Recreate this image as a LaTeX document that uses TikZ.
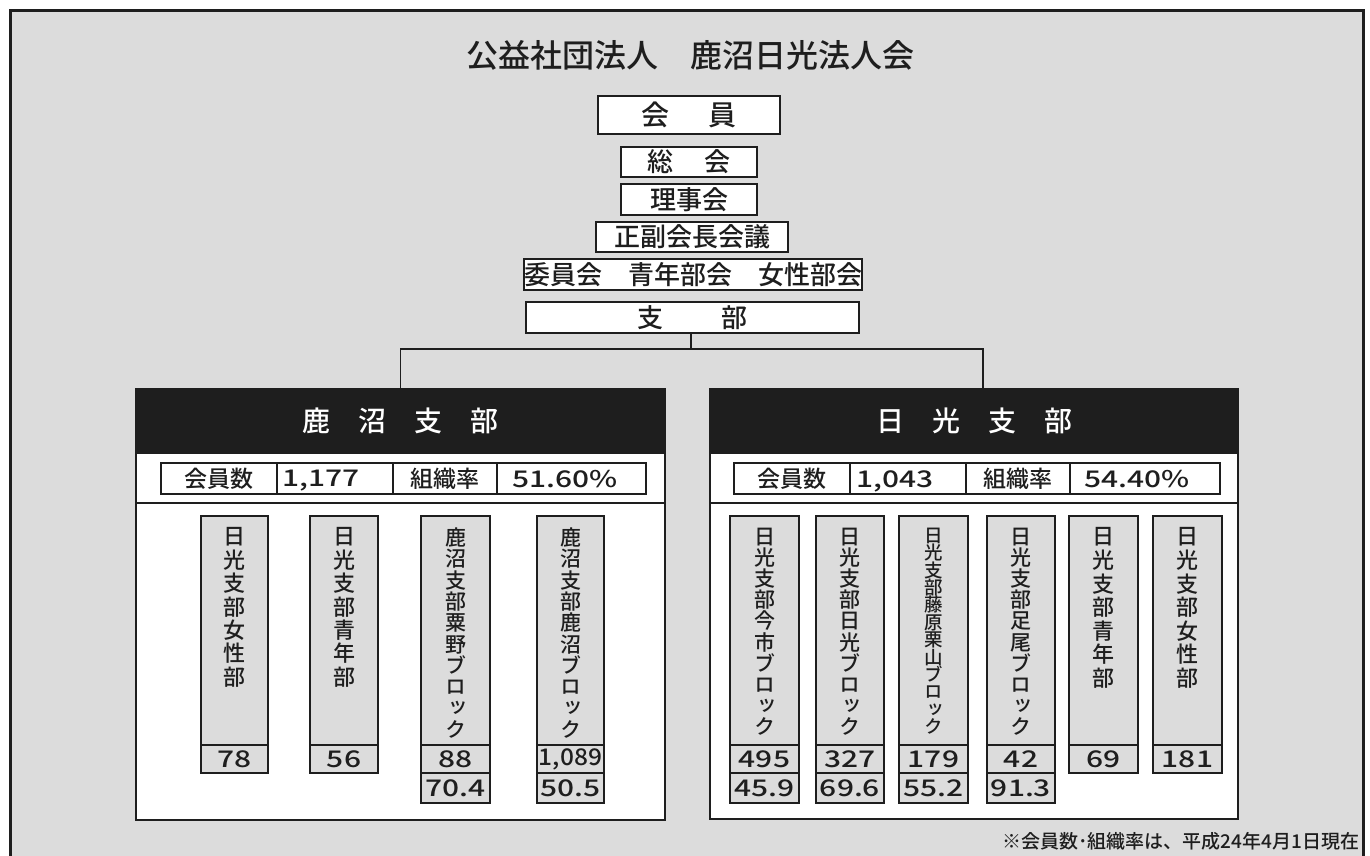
\documentclass[tikz,border=0pt]{standalone}
\usepackage{fontspec}
\usepackage{graphicx}
\setmainfont{Noto Sans CJK JP}[UprightFont=* Medium, BoldFont=* Medium]
\newfontfamily\vjp{Noto Sans CJK JP}[UprightFont=* Medium, RawFeature=+vert]
\definecolor{bg}{RGB}{220,220,220}
\definecolor{ink}{RGB}{30,30,30}
\newcommand\fs[1]{\fontsize{#1}{#1}\selectfont}
\newcommand\wnum[2][1.3]{\scalebox{#1}[1]{#2}}
\newcommand\mkcol[6]{%
  \pgfmathsetmacro\colcx{(#2+#3)/2}\pgfmathsetmacro\colw{#3-#2}%
  \node[colbody, minimum width=\colw pt] (#1) at (\colcx,630.5) {};
  \node[vtxt, font=#4] (#1t) at (\colcx,527) {#5};
  \node[numcell, minimum width=\colw pt] (#1a) at (\colcx,759) {\wnum{#6}};
}
\newcommand\mkcellb[4]{%
  \pgfmathsetmacro\colcx{(#2+#3)/2}\pgfmathsetmacro\colw{#3-#2}%
  \node[numcell, minimum height=30pt, minimum width=\colw pt] (#1) at (\colcx,788) {\wnum{#4}};
}
\begin{document}
\begin{tikzpicture}[x=1pt,y=-1pt,line width=1.6pt,
  box/.style={draw=ink, fill=white, inner sep=0pt, font=\fs{26}, text=ink},
  head/.style={draw=ink, fill=ink, text=white, inner sep=0pt, font=\fs{28}, minimum height=64pt},
  panel/.style={draw=ink, fill=white, inner sep=0pt},
  scell/.style={draw=ink, fill=white, inner sep=0pt, minimum height=31pt, font=\fs{23}, text=ink},
  stxt/.style={inner sep=0pt, anchor=west, font=\fs{23}, text=ink},
  colbody/.style={draw=ink, fill=bg, inner sep=0pt, minimum height=229pt},
  vtxt/.style={anchor=north, inner sep=0pt, align=center, text=ink},
  numcell/.style={draw=ink, fill=bg, inner sep=0pt, minimum height=28pt, font=\fs{23}, text=ink},
  conn/.style={draw=ink, line width=1.6pt}]
\useasboundingbox (0,0) rectangle (1370,856);
\fill[white] (0,0) rectangle (1370,856);
\draw[line width=3pt, draw=ink, fill=bg] (10,11) rectangle (1363,890);

% title
\node[font=\fs{32}, text=ink, inner sep=0pt] (title) at (690,55) {公益社団法人　鹿沼日光法人会};

% central column
\node[box, font=\fs{28}, minimum width=182pt, minimum height=38pt] (kaiin) at (689,115) {会\hspace{1.4em}員};
\node[box, minimum width=136pt, minimum height=30pt] (soukai) at (689,162) {総\hspace{1.2em}会};
\node[box, minimum width=136pt, minimum height=31pt] (riji) at (689,199.5) {理事会};
\node[box, minimum width=192pt, minimum height=30pt] (seifuku) at (692,237) {正副会長会議};
\node[box, minimum width=334pt, minimum height=31pt] (iinkai) at (693,274.5) {委員会　青年部会　女性部会};
\node[box, minimum width=333pt, minimum height=31pt] (shibu) at (692.5,317.5) {支\hspace{2.2em}部};

% panels
\node[panel, minimum width=529pt, minimum height=431pt] (lpanel) at (400.5,604.5) {};
\node[head, minimum width=529pt] (lhead) at (400.5,421) {鹿　沼　支　部};
\node[panel, minimum width=528pt, minimum height=430pt] (rpanel) at (974,604) {};
\node[head, minimum width=528pt] (rhead) at (974,421) {日　光　支　部};

% connectors
\coordinate (bus) at (691,349);
\coordinate (rtop) at (983,389);
\draw[conn] (shibu.south -| bus) -- (bus);
\draw[conn] (lhead.north) |- (bus) -| (rtop);

% separators
\coordinate (sepy) at (0,503);
\draw[conn] (sepy -| lpanel.west) -- (sepy -| lpanel.east);
\draw[conn] (sepy -| rpanel.west) -- (sepy -| rpanel.east);

% stats rows
\node[scell, minimum width=116pt] (lk1) at (219,478.5) {会員数};
\node[scell, minimum width=116pt] (lv1) at (335,478.5) {};
\node[scell, minimum width=104pt] (lk2) at (445,478.5) {組織率};
\node[scell, minimum width=149pt] (lv2) at (571.5,478.5) {};
\node[stxt] (lv1t) at (282,481) {\wnum{1,177}};
\node[stxt] (lv2t) at (512,479) {\wnum{51.60\%}};

\node[scell, minimum width=116pt] (rk1) at (792,478.5) {会員数};
\node[scell, minimum width=116pt] (rv1) at (908,478.5) {};
\node[scell, minimum width=104pt] (rk2) at (1018,478.5) {組織率};
\node[scell, minimum width=150pt] (rv2) at (1145,478.5) {};
\node[stxt] (rv1t) at (856,481) {\wnum{1,043}};
\node[stxt] (rv2t) at (1084,479) {\wnum{54.40\%}};

% left columns
\mkcol{la}{201}{268}{\vjp\fontsize{22}{23.4}\selectfont}{日\\光\\支\\部\\女\\性\\部}{78}
\mkcol{lb}{310}{378}{\vjp\fontsize{22}{23.4}\selectfont}{日\\光\\支\\部\\青\\年\\部}{56}
\mkcol{lc}{421}{490}{\vjp\fontsize{21}{21.3}\selectfont}{鹿\\沼\\支\\部\\粟\\野\\ブ\\ロ\\ッ\\ク}{88}
\mkcellb{lcb}{421}{490}{70.4}
\mkcol{ld}{537}{604}{\vjp\fontsize{21}{21.3}\selectfont}{鹿\\沼\\支\\部\\鹿\\沼\\ブ\\ロ\\ッ\\ク}{\raisebox{-1.5pt}{\scalebox{0.82}[1]{1,089}}}
\mkcellb{ldb}{537}{604}{50.5}

% right columns
\mkcol{ra}{730}{799}{\vjp\fontsize{21}{21.2}\selectfont}{日\\光\\支\\部\\今\\市\\ブ\\ロ\\ッ\\ク}{495}
\mkcellb{rab}{730}{799}{45.9}
\mkcol{rb}{816}{884}{\vjp\fontsize{21}{21.2}\selectfont}{日\\光\\支\\部\\日\\光\\ブ\\ロ\\ッ\\ク}{327}
\mkcellb{rbb}{816}{884}{69.6}
\mkcol{rc}{899}{968}{\vjp\fontsize{18.5}{17.4}\selectfont}{日\\光\\支\\部\\藤\\原\\栗\\山\\ブ\\ロ\\ッ\\ク}{179}
\mkcellb{rcb}{899}{968}{55.2}
\mkcol{rd}{987}{1055}{\vjp\fontsize{21}{21.2}\selectfont}{日\\光\\支\\部\\足\\尾\\ブ\\ロ\\ッ\\ク}{42}
\mkcellb{rdb}{987}{1055}{91.3}
\mkcol{re}{1069}{1138}{\vjp\fontsize{22}{23.6}\selectfont}{日\\光\\支\\部\\青\\年\\部}{69}
\mkcol{rf}{1153}{1222}{\vjp\fontsize{22}{23.6}\selectfont}{日\\光\\支\\部\\女\\性\\部}{181}

% footnote
\node[anchor=base east, inner sep=0pt, font=\fs{19}, text=ink] (note) at (1360,848) {※会員数･組織率は、平成24年4月1日現在};
\end{tikzpicture}
\end{document}
